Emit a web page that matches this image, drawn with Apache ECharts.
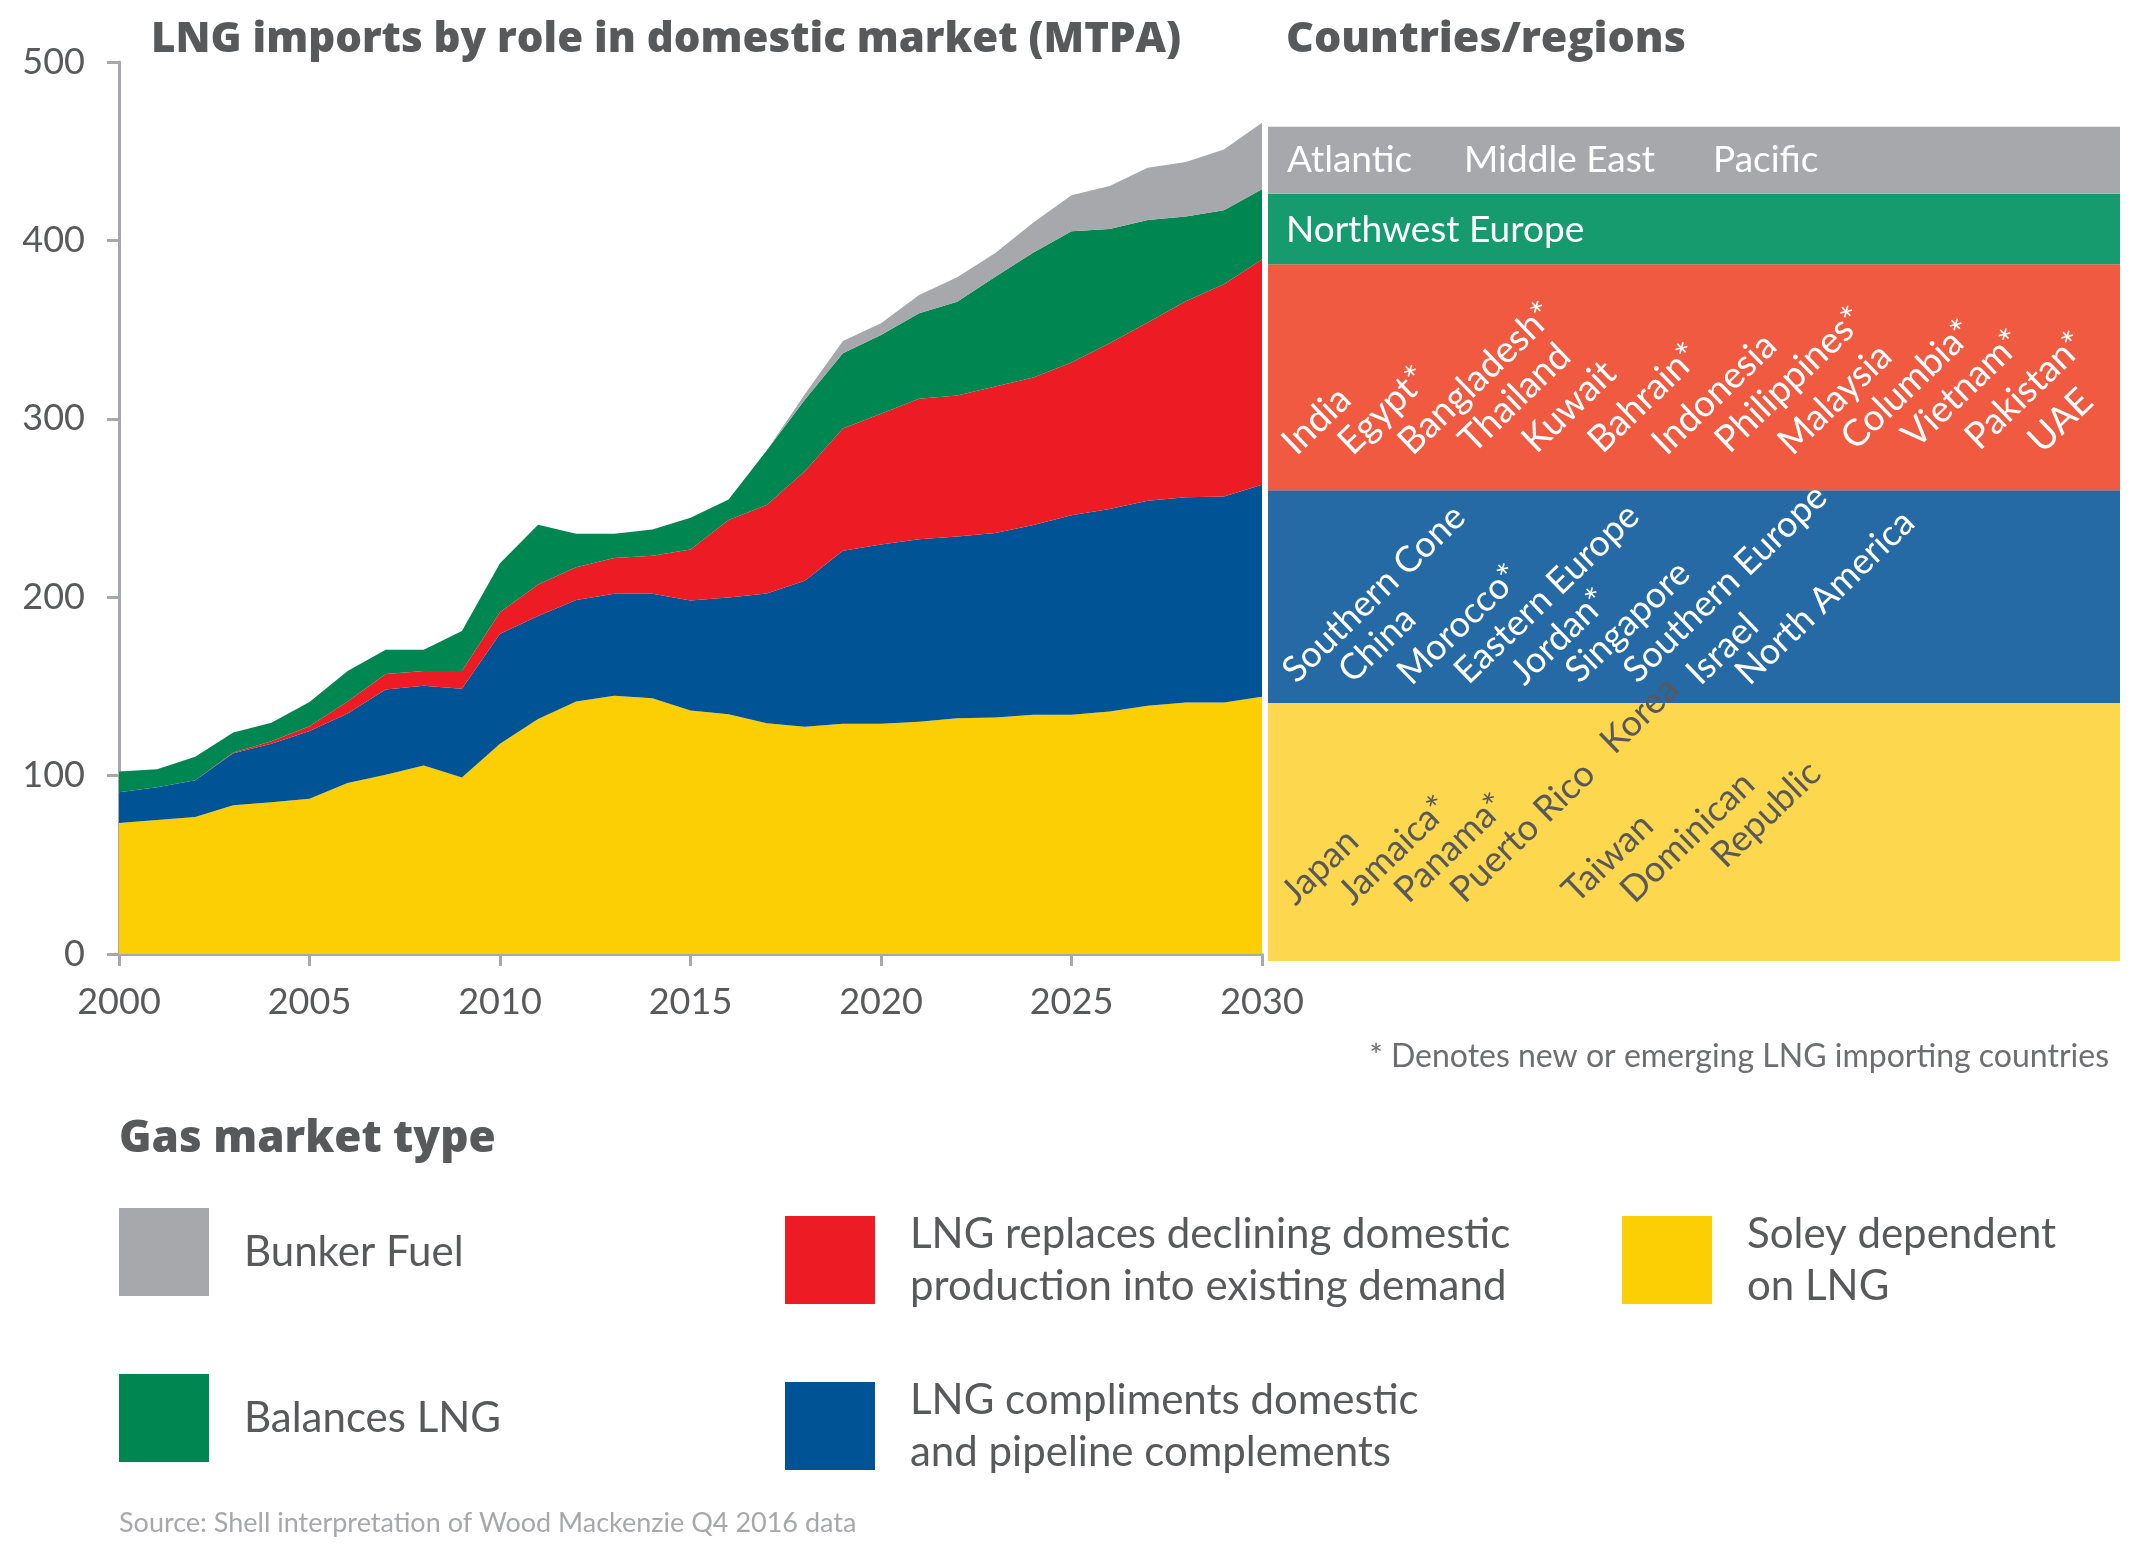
<!DOCTYPE html>
<html lang="en">
<head>
<meta charset="UTF-8">
<title>LNG imports by role in domestic market</title>
<script src="https://cdn.jsdelivr.net/npm/echarts@6/dist/echarts.min.js"></script>
<style>
  html, body { margin: 0; padding: 0; background: #fff; }
  #chart { width: 2152px; height: 1552px; }
</style>
</head>
<body>
<div id="chart"></div>
<script>
// years on the x axis
var years = ['2000','2001','2002','2003','2004','2005','2006','2007','2008','2009',
             '2010','2011','2012','2013','2014','2015','2016','2017','2018','2019',
             '2020','2021','2022','2023','2024','2025','2026','2027','2028','2029','2030'];

// MTPA per gas market type (stacked from the bottom)
var soleyDependent = [73.5,75.1,76.8,83.4,85.1,87.0,95.9,100.5,105.7,99.0,117.8,131.7,141.6,144.8,143.3,136.5,134.4,129.4,127.4,129.1,129.1,130.2,132.2,132.5,134.1,134.1,136.0,139.2,141.0,141.0,144.2];
var compliments    = [17.2,18.4,20.6,29.1,32.7,38.0,38.9,47.8,44.7,49.7,61.7,57.7,56.8,57.1,58.6,61.7,65.5,72.7,81.8,96.9,100.4,102.3,101.8,103.5,106.4,111.9,113.5,114.8,115.0,115.5,118.8];
var replaces       = [0,0,0,0.5,1.4,2.7,6.8,8.7,8.3,10.0,12.0,17.7,18.4,20.1,21.3,28.6,43.4,49.6,61.4,68.5,73.4,78.7,79.0,82.1,82.6,85.6,92.8,100.0,109.9,118.9,126.3];
var balances       = [11.6,10.0,13.2,11.2,10.4,13.5,17.1,13.6,11.9,22.4,27.6,33.5,18.8,13.6,14.8,17.7,11.4,30.5,40.1,42.3,44.1,47.9,52.6,61.5,70.1,73.5,64.1,57.5,47.5,41.5,39.4];
var bunker         = [0,0,0,0,0,0,0,0,0,0,0,0,0,0,0,0,0,0,3.0,6.8,6.5,10.3,13.7,13.4,16.8,20.2,24.1,29.2,30.5,34.1,37.3];

var yTicks = [0, 100, 200, 300, 400, 500];

// countries / regions per band
var bunkerRegions   = ['Atlantic', 'Middle East', 'Pacific'];
var balancesRegions = ['Northwest Europe'];
var replacesCountries = ['India','Egypt*','Bangladesh*','Thailand','Kuwait','Bahrain*','Indonesia','Philippines*','Malaysia','Columbia*','Vietnam*','Pakistan*','UAE'];
var complimentsCountries = ['Southern Cone','China','Morocco*','Eastern Europe','Jordan*','Singapore','Southern Europe','Israel','North America'];
var soleyCountries = ['Japan','Jamaica*','Panama*','Puerto Rico','Korea','Taiwan','Dominican','Republic'];

var names = {
  bunker: 'Bunker Fuel',
  balances: 'Balances LNG',
  replaces: 'LNG replaces declining domestic production into existing demand',
  compliments: 'LNG compliments domestic and pipeline complements',
  soley: 'Soley dependent on LNG'
};
var legendText = {};
legendText[names.bunker] = 'Bunker Fuel';
legendText[names.balances] = 'Balances LNG';
legendText[names.replaces] = 'LNG replaces declining domestic\nproduction into existing demand';
legendText[names.compliments] = 'LNG compliments domestic\nand pipeline complements';
legendText[names.soley] = 'Soley dependent\non LNG';

var FONT = 'Lato, "Open Sans", sans-serif';
var BOLDFONT = '"Open Sans", Lato, sans-serif';
var TEXT = '#58595b';
var AXIS = '#a7a8ab';

var chart = echarts.init(document.getElementById('chart'));

function area(name, data, color) {
  return {
    name: name, type: 'line', stack: 'total', data: data,
    xAxisIndex: 0, yAxisIndex: 0,
    color: color, showSymbol: false, symbol: 'none',
    lineStyle: { width: 0 }, areaStyle: { color: color, opacity: 1 },
    itemStyle: { color: color }, silent: true
  };
}
function band(data, color) {
  return {
    type: 'bar', stack: 'panel', data: [data], xAxisIndex: 1, yAxisIndex: 1,
    barWidth: '100%', itemStyle: { color: color }, silent: true
  };
}

// label layout (anchor = start of baseline, in px)
var deg = 44 * Math.PI / 180;
var replacesPos = [[1286,456],[1342,456],[1402,456],[1463,454],[1526,454],[1592,454],[1656,456],[1719,454],[1782,456],[1845,451],[1906,449],[1969,451],[2032,454]];
var complimentsPos = [[1286,684],[1342,684],[1401,686],[1458,685],[1514,686],[1569,684],[1627,684],[1690,686],[1739,686]];
var soleyPos = [[1285,906],[1342,906],[1398,904],[1454,904],[1604,755],[1566,904],[1624,904],[1715,869]];

var graphics = [];
function addText(s, x, y, size, color, weight, align, rot, family) {
  var fs = size;
  var gx = x, gy = y;
  if (rot) {
    // move anchor from baseline to text middle
    gx = x + 10 - 0.3 * fs * Math.sin(rot);
    gy = y - 0.3 * fs * Math.cos(rot);
  }
  graphics.push({
    type: 'text', x: gx, y: gy, rotation: rot || 0, z: 100, silent: true,
    style: {
      text: s, fill: color, fontSize: fs, fontFamily: family || FONT, fontWeight: weight || 'normal',
      textAlign: align || 'left', align: align || 'left',
      textVerticalAlign: 'middle', verticalAlign: 'middle'
    }
  });
}

addText('LNG imports by role in domestic market (MTPA)', 151, 40, 42, TEXT, 800, 'left', 0, BOLDFONT);
addText('Countries/regions', 1286, 40, 43, TEXT, 800, 'left', 0, BOLDFONT);
addText('* Denotes new or emerging LNG importing countries', 2109, 1057, 32, '#6d6e71', 'normal', 'right');
addText('Gas market type', 119, 1139, 44, TEXT, 800, 'left', 0, BOLDFONT);
addText('Source: Shell interpretation of Wood Mackenzie Q4 2016 data', 119, 1523, 27, AXIS);

var bunkerX = [1287, 1464, 1713];
bunkerRegions.forEach(function (s, i) { addText(s, bunkerX[i], 160, 37, '#fff'); });
balancesRegions.forEach(function (s) { addText(s, 1286, 230, 37, '#fff'); });
replacesCountries.forEach(function (s, i) { addText(s, replacesPos[i][0], replacesPos[i][1], 37, '#fff', 'normal', 'left', deg); });
complimentsCountries.forEach(function (s, i) { addText(s, complimentsPos[i][0], complimentsPos[i][1], 36, '#fff', 'normal', 'left', deg); });
soleyCountries.forEach(function (s, i) { addText(s, soleyPos[i][0], soleyPos[i][1], 36, TEXT, 'normal', 'left', deg); });

var legendBase = {
  icon: 'rect', itemWidth: 90, itemHeight: 88, selectedMode: false, padding: 0,
  formatter: function (n) { return legendText[n]; },
  textStyle: { fontSize: 42, color: TEXT, fontFamily: FONT, lineHeight: 52, padding: [0, 0, 0, 30] }
};
function legendAt(name, left, top) {
  return Object.assign({}, legendBase, { data: [name], left: left, top: top, orient: 'vertical' });
}

var last = years.length - 1;

chart.setOption({
  animation: false,
  backgroundColor: '#fff',
  textStyle: { fontFamily: FONT },
  grid: [
    { left: 119, top: 62, width: 1143, height: 892 },
    { left: 1268, top: 66, width: 852, height: 895 }
  ],
  xAxis: [{
    type: 'category', data: years, boundaryGap: false, gridIndex: 0,
    axisLine: { lineStyle: { color: AXIS, width: 3 } },
    axisTick: { length: 12, lineStyle: { color: AXIS, width: 3 }, interval: function (i) { return i % 5 === 0; } },
    axisLabel: { interval: function (i) { return i % 5 === 0; }, color: TEXT, fontSize: 36, margin: 30, fontFamily: FONT },
    splitLine: { show: false }
  }, {
    type: 'category', data: ['2030'], gridIndex: 1, show: false
  }],
  yAxis: [{
    type: 'value', min: yTicks[0], max: yTicks[yTicks.length - 1], interval: 100, gridIndex: 0,
    axisLine: { show: true, lineStyle: { color: AXIS, width: 3 } },
    axisTick: { show: true, length: 12, lineStyle: { color: AXIS, width: 3 } },
    axisLabel: { color: TEXT, fontSize: 36, margin: 34, fontFamily: FONT },
    splitLine: { show: false }
  }, {
    type: 'value', min: 0, max: 500, gridIndex: 1, show: false, splitLine: { show: false }
  }],
  legend: [
    legendAt(names.bunker, 119, 1208),
    legendAt(names.balances, 119, 1374),
    legendAt(names.replaces, 785, 1208),
    legendAt(names.compliments, 785, 1374),
    legendAt(names.soley, 1622, 1208)
  ],
  series: [
    area(names.soley, soleyDependent, '#fbcf04'),
    area(names.compliments, compliments, '#005495'),
    area(names.replaces, replaces, '#ed1c24'),
    area(names.balances, balances, '#008751'),
    area(names.bunker, bunker, '#a7a8ab'),
    band(soleyDependent[last], '#fdd84e'),
    band(compliments[last], '#2569a5'),
    band(replaces[last], '#ef5a40'),
    band(balances[last], '#169b6e'),
    band(bunker[last], '#a7a8ab')
  ],
  graphic: graphics
});
</script>
</body>
</html>
